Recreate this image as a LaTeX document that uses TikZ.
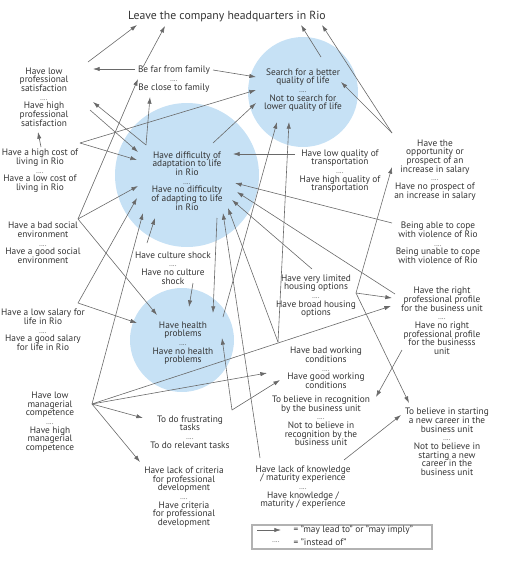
\documentclass[tikz,border=0pt]{standalone}
\usepackage{fontspec}
\setmainfont{PT Sans}
\usepackage{xcolor}
\definecolor{bubble}{RGB}{198,225,245}
\definecolor{inkgray}{RGB}{52,52,52}
\definecolor{linegray}{RGB}{105,105,105}
\usepackage{tikz}
\usetikzlibrary{arrows.meta}
\newcommand{\insteadof}{{\fontsize{5}{5}\selectfont ....}}
\tikzset{
  item/.style={align=center, inner sep=1pt, text=inkgray, font=\fontsize{7}{6.5}\selectfont},
  link/.style={draw=linegray, line width=.45pt, -{Latex[length=5pt,width=3.2pt]}},
}

\begin{document}
\begin{tikzpicture}[x=.75pt,y=-.75pt]
\useasboundingbox (0,0) rectangle (508,565);

% the three bubbles
\fill[bubble] (187,175) circle [radius=54pt];
\fill[bubble] (303,92) circle [radius=41.25pt];
\fill[bubble] (182,340) circle [radius=39pt];

\node (title) at (227,17) [item, font=\fontsize{8.8}{9}\selectfont] {Leave the company headquarters in Rio};
\node (sat) at (44,97) [item] {Have low\\professional\\satisfaction\\\insteadof\\Have high\\professional\\satisfaction};
\node (family) at (174,79) [item] {Be far from family\\\insteadof\\Be close to family};
\node (quality) at (303,90) [item] {Search for a better\\quality of life\\\insteadof\\Not to search for\\lower quality of life};
\node (cost) at (40,171) [item] {Have a high cost of\\living in Rio\\\insteadof\\Have a low cost of\\living in Rio};
\node (adapt) at (187,181) [item] {Have difficulty of\\adaptation to life\\in Rio\\\insteadof\\Have no difficulty\\of adapting to life\\in Rio};
\node (transp) at (340,171) [item] {Have low quality of\\transportation\\\insteadof\\Have high quality of\\transportation};
\node (salinc) at (435,170) [item] {Have the\\opportunity or\\prospect of an\\increase in salary\\\insteadof\\Have no prospect of\\an increase in salary};
\node (social) at (43,243) [item] {Have a bad social\\environment\\\insteadof\\Have a good social\\environment};
\node (violence) at (438,243) [item] {Being able to cope\\with violence of Rio\\\insteadof\\Being unable to cope\\with violence of Rio};
\node (culture) at (173,268) [item] {Have culture shock\\\insteadof\\Have no culture\\shock};
\node (housing) at (316,296) [item] {Have very limited\\housing options\\\insteadof\\Have broad housing\\options};
\node (profile) at (442,321) [item] {Have the right\\professional profile\\for the business unit\\\insteadof\\Have no right\\professional profile\\for the businesss\\unit};
\node (salary) at (43,330) [item] {Have a low salary for\\life in Rio\\\insteadof\\Have a good salary\\for life in Rio};
\node (health) at (183,343) [item] {Have health\\problems\\\insteadof\\Have no health\\problems};
\node (working) at (326,368) [item] {Have bad working\\conditions\\\insteadof\\Have good working\\conditions};
\node (mgr) at (50,422) [item] {Have low\\managerial\\competence\\\insteadof\\Have high\\managerial\\competence};
\node (recog) at (321,421) [item] {To believe in recognition\\by the business unit\\\insteadof\\Not to believe in\\recognition by the\\business unit};
\node (tasks) at (190,432) [item] {To do frustrating\\tasks\\\insteadof\\To do relevant tasks};
\node (career) at (447,442) [item] {To believe in starting\\a new career in the\\business unit\\\insteadof\\Not to believe in\\starting a new\\career in the\\business unit};
\node (criteria) at (184,497) [item] {Have lack of criteria\\for professional\\development\\\insteadof\\Have criteria\\for professional\\development};
\node (knowledge) at (303,487) [item] {Have lack of knowledge\\/ maturity experience\\\insteadof\\Have knowledge /\\maturity / experience};

% points where several arrows leave one item
\coordinate (cost-out) at ([shift={(40,-28)}]cost.center);
\coordinate (adapt-out) at ([shift={(-41,-36)}]adapt.center);
\coordinate (salinc-out) at ([shift={(-43,-37)}]salinc.center);
\coordinate (social-out) at ([shift={(35,-24)}]social.center);
\coordinate (salary-out) at ([shift={(35,-27)}]salary.center);
\coordinate (working-out) at ([shift={(-48,-26)}]working.center);
\coordinate (housing-out) at ([shift={(40,-3)}]housing.center);
\coordinate (mgr-out) at ([shift={(42,-18)}]mgr.center);
\coordinate (tasks-out) at ([shift={(42,-22)}]tasks.center);

% towards the top
\draw[link] ([shift={(44,-35)}]sat.center) -- ([shift={(-90,8)}]title.center);
\draw[link] ([shift={(-31,-12)}]family.center) -- ([shift={(-62,9)}]title.center);
\draw[link] ([shift={(18,-33)}]quality.center) -- ([shift={(74,8)}]title.center);
\draw[link] (salinc-out) -- ([shift={(95,8)}]title.center);
\draw[link] (salinc-out) -- ([shift={(38,-8)}]quality.center);
\draw[link] ([shift={(-39,-10)}]family.center) -- ([shift={(49,-28)}]sat.center);
\draw[link] ([shift={(39,-9)}]family.center) -- ([shift={(-47,-13)}]quality.center);
\draw[link] ([shift={(1,-24)}]cost.center) -- ([shift={(-6,35)}]sat.center);
\draw[link] (cost-out) -- ([shift={(-47,0)}]quality.center);
\draw[link] (cost-out) -- ([shift={(-50,-21)}]adapt.center);
\draw[link] ([shift={(46,13)}]sat.center) -- ([shift={(-49,-29)}]adapt.center);
\draw[link] (adapt-out) -- ([shift={(49,5)}]sat.center);
\draw[link] (adapt-out) -- ([shift={(-24,18)}]family.center);
\draw[link] ([shift={(26,-38)}]adapt.center) -- ([shift={(-47,13)}]quality.center);

% into the adaptation bubble
\draw[link] ([shift={(-45,-17)}]transp.center) -- ([shift={(46,-27)}]adapt.center);
\draw[link] ([shift={(-46,-20)}]violence.center) -- ([shift={(48,2)}]adapt.center);
\draw[link] ([shift={(-47,-27)}]profile.center) -- ([shift={(50,11)}]adapt.center);
\draw[link] ([shift={(-4,-27)}]housing.center) -- ([shift={(45,19)}]adapt.center);
\draw[link] (working-out) -- ([shift={(41,27)}]adapt.center);
\draw[link] ([shift={(-43,-29)}]knowledge.center) -- ([shift={(36,32)}]adapt.center);
\draw[link] (working-out) -- ([shift={(-14,32)}]quality.center);
\draw[link] ([shift={(40,-26)}]health.center) -- ([shift={(-26,32)}]quality.center);
\draw[link] ([shift={(30,37)}]adapt.center) -- ([shift={(30,-30)}]health.center);
\draw[link] ([shift={(-26,-25)}]culture.center) -- ([shift={(-32,37)}]adapt.center);
\draw[link] ([shift={(20,15)}]culture.center) -- ([shift={(6,-36)}]health.center);
\draw[link] (social-out) -- ([shift={(-36,0)}]family.center);
\draw[link] (social-out) -- ([shift={(-49,5)}]adapt.center);
\draw[link] (social-out) -- ([shift={(-26,-28)}]health.center);
\draw[link] (salary-out) -- ([shift={(-50,17)}]adapt.center);
\draw[link] (salary-out) -- ([shift={(-46,-20)}]health.center);

% managerial competence fan
\draw[link] (mgr-out) -- ([shift={(-44,32)}]adapt.center);
\draw[link] (mgr-out) -- ([shift={(-51,-15)}]profile.center);
\draw[link] (mgr-out) -- ([shift={(-59,5)}]working.center);
\draw[link] (mgr-out) -- ([shift={(-47,-14)}]tasks.center);
\draw[link] (mgr-out) -- ([shift={(-44,-35)}]criteria.center);
\draw[link] (tasks-out) -- ([shift={(39,-5)}]health.center);
\draw[link] (tasks-out) -- ([shift={(-46,12)}]working.center);

% right hand side
\draw[link] (housing-out) -- ([shift={(-43,-3)}]salinc.center);
\draw[link] (housing-out) -- ([shift={(-50,-23)}]profile.center);
\draw[link] (housing-out) -- ([shift={(-38,-39)}]career.center);
\draw[link] ([shift={(-40,29)}]profile.center) -- ([shift={(55,-24)}]recog.center);
\draw[link] ([shift={(41,-27)}]knowledge.center) -- ([shift={(-46,-27)}]career.center);

% legend
\draw[black!30, line width=1pt] (252,525) rectangle (432,549);
\node (leadsto) at (292,530) [item, anchor=west] {= "may lead to" or "may imply"};
\node (instead) at (292,542) [item, anchor=west] {= "instead of"};
\node (dots) at (276,542) [item] {\insteadof};
\draw[link] ([shift={(-35,0)}]leadsto.west) -- ([shift={(-11,0)}]leadsto.west);

\end{tikzpicture}
\end{document}
